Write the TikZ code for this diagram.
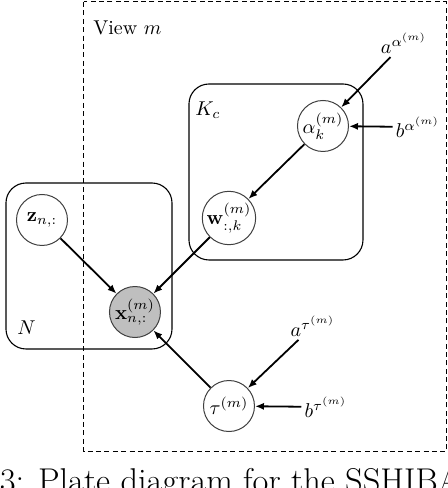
\documentclass[tikz,border=0pt]{standalone}
\usepackage{amsmath}
\usepackage{amssymb}
\usepackage{xcolor}
\usepackage{tikz}
\usetikzlibrary{arrows, arrows.meta}
\usetikzlibrary{positioning}
\usetikzlibrary{calc}

\begin{document}
\begin{tikzpicture}[latent/.style={circle, draw=black!75, line width=0.5pt, fill=white, minimum size=25.5pt, inner sep=0pt},
		obs/.style={latent, fill=black!25},
		hyper/.style={inner sep=1.5pt},
		plate/.style={draw, line width=0.55pt, rounded corners=10pt},
		edge/.style={-{Latex[length=4.5pt, width=3.6pt]}, line width=0.9pt}]
			\useasboundingbox (0,0) rectangle (7.873,-8.576);
			\clip (0,0) rectangle (7.873,-8.576);

			% view plate
			\draw[line width=0.5pt, dash pattern=on 2.5pt off 1.7pt] (1.476,-0.035) rectangle (7.84,-7.943);
			\node[anchor=base west, inner sep=0pt](viewLabel) at (1.634,-0.615){View $m$};

			% plates K_c and N
			\draw[plate] (3.321,-1.476) rectangle (6.379,-4.569);
			\node[anchor=base west, inner sep=0pt](kLabel) at (3.427,-2.021){$K_c$};
			\draw[plate] (0.105,-3.216) rectangle (3.023,-6.133);
			\node[anchor=base west, inner sep=0pt](nLabel) at (0.30,-5.887){$N$};

			% variables
			\node[latent](alpha) at (5.676,-2.214){$\alpha_k^{(m)}$};
			\node[latent](w) at (4.024,-3.831){$\mathbf{w}_{:,k}^{(m)}$};
			\node[latent](z) at (0.738,-3.866){$\mathbf{z}_{n,:}$};
			\node[obs](x) at (2.372,-5.483){$\mathbf{x}_{n,:}^{(m)}$};
			\node[latent](tau) at (4.024,-7.135){$\tau^{(m)}$};

			% hyperparameters
			\node[hyper](aAlpha) at (7.1,-0.76){$a^{\alpha^{(m)}}$};
			\node[hyper](bAlpha) at (7.345,-2.232){$b^{\alpha^{(m)}}$};
			\node[hyper](aTau) at (5.5,-5.73){$a^{\tau^{(m)}}$};
			\node[hyper](bTau) at (5.729,-7.152){$b^{\tau^{(m)}}$};

			\foreach \iFrom/\iTo in {aAlpha/alpha, bAlpha/alpha, alpha/w, w/x, z/x, aTau/tau, bTau/tau, tau/x}
			{
				\draw[edge] (\iFrom) -- (\iTo);
			}

			% caption, cut by the page
			\node[anchor=base west, inner sep=0pt, font=\fontsize{17.2pt}{21pt}\selectfont](caption) at (-0.01,-8.655){3: Plate diagram for the SSHIBA};
		\end{tikzpicture}
\end{document}
